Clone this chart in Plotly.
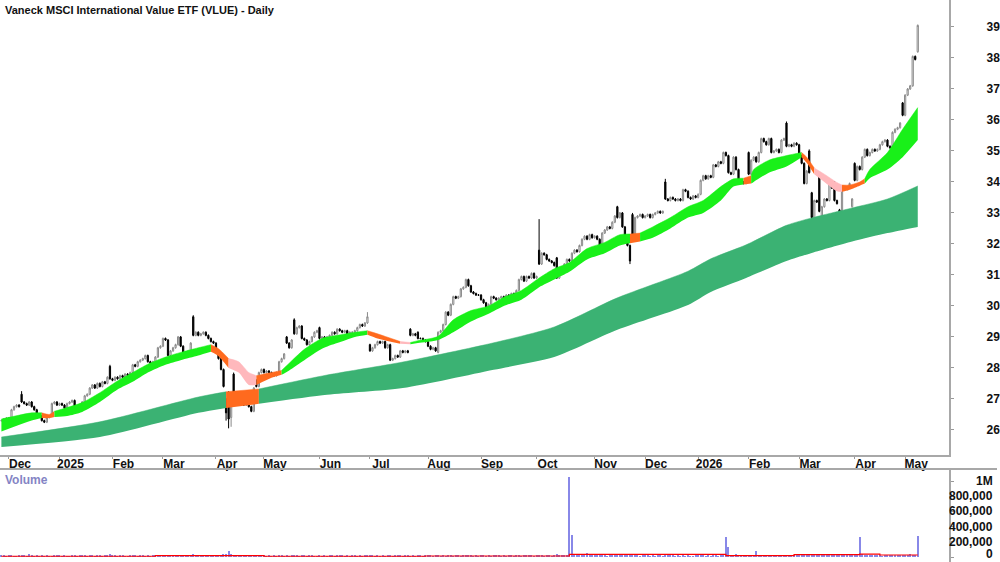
import pandas as pd
import numpy as np
import plotly.graph_objects as go

# ---------------- DATA ----------------
HOLIDAYS = ["2024-12-25", "2024-12-26", "2025-01-01", "2025-01-27", "2025-04-18", "2025-04-21",
            "2025-04-25", "2025-06-09", "2025-12-25", "2025-12-26", "2026-01-01", "2026-01-26",
            "2026-04-03", "2026-04-06"]

close_2024_11 = [26.30, 26.35, 26.38]
close_2024_12 = [26.35, 26.65, 26.75, 26.80, 26.75, 26.90, 26.85, 26.80, 26.90, 26.75, 26.65, 26.50,
                 26.45, 26.30, 26.25, 26.40, 26.45, 26.85, 26.90, 26.80]
close_2025_01 = [26.85, 26.80, 26.70, 26.85, 26.90, 26.95, 26.75, 26.65, 26.75, 26.90, 27.10, 27.15,
                 27.35, 27.45, 27.35, 27.50, 27.40, 27.55, 27.50, 27.70, 27.65]
close_2025_02 = [27.60, 27.70, 27.65, 27.75, 27.70, 27.80, 27.75, 27.85, 28.10, 28.05, 28.20, 28.25,
                 28.30, 28.40, 28.20, 28.15, 28.20, 28.35, 28.65, 28.70]
close_2025_03 = [28.95, 28.90, 28.40, 28.55, 28.65, 28.75, 29.00, 28.70, 28.50, 28.45, 28.55, 28.80,
                 29.05, 29.15, 29.05, 29.10, 29.15, 29.05, 28.95, 28.85, 28.80]
close_2025_04 = [28.55, 28.30, 27.95, 27.40, 26.55, 26.35, 27.00, 27.05, 26.95, 26.85, 27.00, 26.80,
                 26.95, 26.75, 26.60, 27.35, 27.40, 27.85, 27.95]
close_2025_05 = [27.85, 27.90, 27.85, 27.80, 27.75, 27.85, 28.20, 28.30, 28.45, 28.80, 28.65, 28.90,
                 29.10, 29.30, 29.35, 28.95, 28.90, 28.75, 28.85, 29.00, 29.15, 29.20]
close_2025_06 = [28.95, 29.00, 28.95, 29.00, 29.05, 29.15, 29.10, 29.25, 29.20, 29.15, 29.20, 29.10,
                 29.15, 29.15, 29.20, 29.30, 29.40, 29.35, 29.45, 29.65]
close_2025_07 = [28.55, 28.65, 28.75, 28.85, 28.80, 28.85, 28.65, 28.75, 28.25, 28.30, 28.40, 28.35,
                 28.55, 28.50, 28.55, 28.50, 29.05, 29.10, 29.05, 28.95, 28.95, 28.90, 28.85]
close_2025_08 = [28.70, 28.60, 28.65, 28.55, 29.15, 29.20, 29.40, 29.80, 29.70, 30.05, 30.30, 30.25,
                 30.30, 30.55, 30.60, 30.85, 30.65, 30.45, 30.40, 30.35, 30.35]
close_2025_09 = [30.20, 30.10, 29.95, 30.05, 30.30, 30.25, 30.20, 30.25, 30.30, 30.25, 30.35, 30.30,
                 30.40, 30.35, 30.50, 30.85, 30.95, 30.80, 30.95, 30.90, 31.05, 30.90]
close_2025_10 = [30.95, 31.35, 31.70, 31.65, 31.50, 31.45, 31.40, 31.30, 30.90, 31.05, 31.15, 31.35,
                 31.50, 31.45, 31.70, 31.80, 31.75, 31.95, 32.15, 32.25, 32.15, 32.30, 32.20]
close_2025_11 = [32.25, 32.15, 31.85, 32.35, 32.45, 32.55, 32.50, 32.70, 32.90, 32.85, 33.00, 32.55,
                 32.25, 31.95, 31.45, 32.30, 32.85, 32.90, 32.95, 32.85]
close_2025_12 = [32.90, 32.95, 32.85, 32.95, 33.00, 33.05, 33.00, 33.05, 33.45, 33.40, 33.50, 33.45,
                 33.40, 33.45, 33.40, 33.75, 33.70, 33.50, 33.45, 33.55, 33.50]
close_2026_01 = [33.60, 34.05, 34.20, 34.10, 34.20, 34.15, 34.55, 34.50, 34.65, 34.60, 34.95, 34.85,
                 34.30, 34.25, 34.80, 34.40, 34.05, 34.00, 33.95, 34.00]
close_2026_02 = [34.25, 34.70, 34.80, 34.65, 34.95, 35.40, 35.30, 35.20, 35.40, 34.95, 35.00, 35.05,
                 34.95, 35.35, 35.40, 35.15, 35.20, 35.15, 35.25, 35.20]
close_2026_03 = [34.85, 34.60, 33.95, 34.35, 34.30, 32.85, 33.40, 33.35, 33.05, 33.20, 33.45, 33.40,
                 33.95, 33.80, 33.40, 33.30, 32.75, 33.80, 33.75, 33.80, 33.95, 33.45]
close_2026_04 = [34.05, 34.50, 34.40, 34.80, 35.05, 34.85, 34.95, 35.05, 35.00, 35.05, 35.20, 35.30,
                 35.35, 35.15, 35.10, 35.60, 35.70, 35.75, 35.90, 36.15]
close_2026_05 = [36.80, 37.00, 37.10, 38.05, 37.95, 39.05]

# candles whose open is not the previous close, and notable wicks
open_override = {"2024-12-09": 27.15, "2025-01-31": 28.05, "2025-03-19": 29.65, "2025-04-07": 27.00,
                 "2025-04-08": 27.20, "2025-04-09": 26.40, "2025-04-10": 27.80, "2025-04-28": 27.60,
                 "2025-05-14": 29.00, "2025-05-19": 29.55, "2025-06-02": 29.30, "2025-07-01": 28.75,
                 "2025-07-23": 29.25, "2025-07-28": 29.15, "2025-08-07": 28.50, "2025-10-02": 31.80,
                 "2025-10-13": 31.55, "2025-11-14": 33.20, "2025-11-24": 32.95, "2025-12-11": 34.00,
                 "2026-02-02": 34.95, "2026-02-23": 35.90, "2026-03-06": 35.00, "2026-03-09": 33.65,
                 "2026-03-12": 34.25, "2026-03-13": 32.80, "2026-03-20": 34.00, "2026-03-24": 33.10,
                 "2026-03-31": 33.20, "2026-04-01": 34.60, "2026-04-30": 36.55, "2026-05-06": 37.10,
                 "2026-05-08": 38.20}
high_override = {"2024-12-09": 27.25, "2025-01-31": 28.10, "2025-03-19": 29.70, "2025-04-08": 27.25,
                 "2025-04-10": 27.85, "2025-05-19": 29.60, "2025-06-30": 29.80, "2025-10-02": 32.80,
                 "2025-11-24": 33.00, "2025-12-11": 34.10, "2026-02-23": 35.95, "2026-03-06": 35.05}
low_override = {"2025-04-07": 26.30, "2025-04-08": 26.05, "2025-04-09": 26.10, "2025-11-21": 31.35,
                "2026-03-09": 32.55, "2026-03-13": 32.70, "2026-03-24": 32.60}

# volume, thousands of shares
vol_2024_11 = [22, 14, 9]
vol_2024_12 = [18, 30, 12, 9, 26, 15, 21, 11, 34, 17, 8, 24, 13, 28, 12, 19, 7, 5, 15, 20]
vol_2025_01 = [16, 11, 25, 13, 9, 31, 19, 12, 23, 14, 27, 10, 18, 22, 8, 15, 29, 12, 20, 16, 35]
vol_2025_02 = [14, 22, 10, 17, 26, 12, 9, 21, 18, 30, 11, 15, 24, 13, 19, 8, 27, 16, 12, 23]
vol_2025_03 = [20, 13, 28, 11, 17, 24, 9, 15, 22, 30, 12, 18, 33, 14, 10, 21, 16, 25, 11, 19, 14]
vol_2025_04 = [18, 24, 30, 38, 45, 82, 40, 28, 22, 15, 19, 12, 26, 14, 10, 17, 21, 13, 16]
vol_2025_05 = [15, 10, 19, 12, 24, 9, 17, 28, 13, 21, 11, 16, 26, 14, 8, 18, 22, 12, 15, 20, 10, 13]
vol_2025_06 = [17, 12, 23, 9, 15, 20, 11, 27, 14, 18, 10, 22, 13, 16, 25, 12, 19, 9, 14, 30]
vol_2025_07 = [26, 15, 11, 20, 13, 24, 9, 17, 31, 12, 18, 14, 22, 10, 16, 27, 13, 19, 11, 21, 15, 12, 18]
vol_2025_08 = [14, 20, 11, 17, 29, 13, 22, 10, 18, 25, 12, 16, 21, 9, 15, 28, 14, 19, 11, 17, 13]
vol_2025_09 = [16, 22, 12, 19, 10, 25, 14, 18, 9, 21, 13, 17, 24, 11, 15, 30, 12, 20, 14, 18, 26, 13]
vol_2025_10 = [19, 28, 15, 12, 22, 17, 10, 25, 34, 14, 18, 21, 30, 1050, 290, 45, 22, 18, 25, 38, 55, 20, 16]
vol_2025_11 = [18, 24, 30, 15, 21, 12, 27, 19, 33, 25, 17, 22, 28, 14, 38, 26, 15, 20, 11, 18]
vol_2025_12 = [16, 21, 13, 25, 10, 18, 23, 12, 30, 17, 14, 22, 11, 19, 9, 24, 13, 16, 8, 12, 15]
vol_2026_01 = [14, 22, 17, 11, 26, 13, 19, 24, 10, 18, 15, 265, 130, 20, 16, 35, 22, 14, 19, 12]
vol_2026_02 = [21, 15, 28, 80, 13, 19, 24, 11, 17, 22, 14, 30, 18, 12, 25, 16, 20, 13, 19, 23]
vol_2026_03 = [24, 18, 30, 22, 35, 40, 28, 19, 33, 26, 21, 17, 29, 23, 31, 18, 36, 25, 20, 16, 27, 22]
vol_2026_04 = [25, 30, 260, 45, 22, 18, 27, 14, 20, 16, 24, 12, 19, 28, 15, 21, 17, 23, 26, 31]
vol_2026_05 = [28, 22, 35, 30, 26, 270]

# volume average line (stepped), shares
vol_ma_dates = ["2024-11-27", "2025-02-26", "2025-05-01", "2025-07-31", "2025-10-20", "2026-01-19",
                "2026-02-26", "2026-04-07", "2026-04-17", "2026-05-08"]
vol_ma_values = [10000, 18000, 10000, 13000, 35000, 18000, 31000, 39000, 26000, 26000]

# short-term band (upper / lower edge)
short_dates = ["2024-11-27", "2024-12-13", "2024-12-19", "2024-12-24", "2024-12-30", "2025-01-07",
               "2025-01-15", "2025-01-24", "2025-02-05", "2025-02-13", "2025-02-21", "2025-03-04",
               "2025-03-12", "2025-03-21", "2025-03-28", "2025-04-02", "2025-04-08", "2025-04-14",
               "2025-04-22", "2025-04-28", "2025-05-06", "2025-05-12", "2025-05-15", "2025-05-23",
               "2025-06-03", "2025-06-12", "2025-06-23", "2025-06-30", "2025-07-04", "2025-07-17",
               "2025-07-23", "2025-07-28", "2025-08-07", "2025-08-15", "2025-08-26", "2025-09-04",
               "2025-09-12", "2025-09-23", "2025-10-02", "2025-10-10", "2025-10-20", "2025-10-29",
               "2025-11-07", "2025-11-17", "2025-11-21", "2025-11-27", "2025-12-04", "2025-12-15",
               "2025-12-24", "2026-01-06", "2026-01-15", "2026-01-22", "2026-01-29", "2026-02-03",
               "2026-02-04", "2026-02-12", "2026-02-23", "2026-03-03", "2026-03-05", "2026-03-10",
               "2026-03-16", "2026-03-23", "2026-03-25", "2026-03-30", "2026-04-07", "2026-04-09",
               "2026-04-13", "2026-04-22", "2026-04-30", "2026-05-08"]
short_upper = [26.35, 26.55, 26.55, 26.50, 26.60, 26.72, 26.88, 27.20, 27.58, 27.85, 28.12, 28.35,
               28.50, 28.65, 28.75, 28.62, 28.30, 28.20, 27.85, 27.75, 27.85, 27.92, 28.15, 28.60,
               28.95, 29.05, 29.15, 29.20, 29.10, 28.85, 28.82, 28.88, 29.02, 29.55, 29.85, 30.00,
               30.28, 30.50, 30.90, 31.20, 31.40, 31.85, 32.05, 32.30, 32.32, 32.35, 32.55, 32.85,
               33.20, 33.40, 33.85, 34.10, 34.12, 34.20, 34.40, 34.70, 34.85, 34.95, 34.80, 34.45,
               34.25, 33.98, 33.90, 33.90, 34.00, 34.10, 34.40, 34.95, 35.70, 36.40]
short_lower = [25.95, 26.30, 26.38, 26.38, 26.42, 26.45, 26.58, 26.90, 27.30, 27.55, 27.85, 28.10,
               28.25, 28.40, 28.52, 28.38, 28.00, 27.85, 27.45, 27.45, 27.68, 27.78, 27.92, 28.25,
               28.62, 28.80, 29.00, 29.07, 28.95, 28.78, 28.76, 28.80, 28.90, 29.15, 29.50, 29.75,
               30.00, 30.20, 30.60, 30.85, 31.10, 31.50, 31.70, 31.95, 32.02, 32.08, 32.20, 32.50,
               32.85, 33.00, 33.40, 33.85, 33.92, 33.95, 34.00, 34.30, 34.50, 34.80, 34.62, 34.25,
               34.00, 33.70, 33.68, 33.75, 33.88, 33.95, 34.12, 34.40, 34.80, 35.35]
short_states = [("2024-11-27", "2024-12-19", "up"), ("2024-12-19", "2024-12-30", "weak"),
                ("2024-12-30", "2025-03-28", "up"), ("2025-03-28", "2025-04-08", "weak"),
                ("2025-04-08", "2025-04-28", "down"), ("2025-04-28", "2025-05-12", "weak"),
                ("2025-05-12", "2025-06-30", "up"), ("2025-06-30", "2025-07-17", "weak"),
                ("2025-07-17", "2025-07-23", "down"), ("2025-07-23", "2025-11-21", "up"),
                ("2025-11-21", "2025-11-27", "weak"), ("2025-11-27", "2026-01-29", "up"),
                ("2026-01-29", "2026-02-03", "weak"), ("2026-02-03", "2026-03-03", "up"),
                ("2026-03-03", "2026-03-10", "weak"), ("2026-03-10", "2026-03-25", "down"),
                ("2026-03-25", "2026-04-09", "weak"), ("2026-04-09", "2026-05-08", "up")]

# long-term band
long_dates = ["2024-11-27", "2025-01-24", "2025-03-21", "2025-04-07", "2025-04-29", "2025-06-05",
              "2025-07-18", "2025-09-08", "2025-10-10", "2025-11-14", "2025-12-24", "2026-01-09",
              "2026-01-30", "2026-02-23", "2026-03-09", "2026-03-31", "2026-04-22", "2026-05-08"]
long_upper = [25.77, 26.26, 27.06, 27.23, 27.32, 27.77, 28.19, 28.81, 29.32, 30.26, 31.12, 31.52,
              31.97, 32.60, 32.84, 33.16, 33.45, 33.87]
long_lower = [25.45, 25.77, 26.55, 26.71, 26.84, 27.13, 27.35, 27.94, 28.35, 29.23, 30.03, 30.45,
              30.90, 31.45, 31.71, 32.08, 32.35, 32.55]
long_states = [("2024-11-27", "2025-04-07", "up"), ("2025-04-07", "2025-04-29", "weak"),
               ("2025-04-29", "2026-05-08", "up")]

month_labels = ["Dec", "2025", "Feb", "Mar", "Apr", "May", "Jun", "Jul", "Aug", "Sep", "Oct", "Nov",
                "Dec", "2026", "Feb", "Mar", "Apr", "May"]
price_ticks = list(range(26, 40))
volume_ticks = [0, 200000, 400000, 600000, 800000, 1000000]
volume_tick_text = ["0", "200,000", "400,000", "600,000", "800,000", "1M"]

# ---------------- BUILD ----------------
days = pd.bdate_range("2024-11-27", "2026-05-08")
days = days[~days.isin(pd.to_datetime(HOLIDAYS))]
closes = (close_2024_11 + close_2024_12 + close_2025_01 + close_2025_02 + close_2025_03 + close_2025_04 +
          close_2025_05 + close_2025_06 + close_2025_07 + close_2025_08 + close_2025_09 + close_2025_10 +
          close_2025_11 + close_2025_12 + close_2026_01 + close_2026_02 + close_2026_03 + close_2026_04 +
          close_2026_05)
vols = (vol_2024_11 + vol_2024_12 + vol_2025_01 + vol_2025_02 + vol_2025_03 + vol_2025_04 + vol_2025_05 +
        vol_2025_06 + vol_2025_07 + vol_2025_08 + vol_2025_09 + vol_2025_10 + vol_2025_11 + vol_2025_12 +
        vol_2026_01 + vol_2026_02 + vol_2026_03 + vol_2026_04 + vol_2026_05)
n = len(days)
assert len(closes) == n, (len(closes), n)
assert len(vols) == n, (len(vols), n)

def pos(d):
    return int(days.searchsorted(pd.Timestamp(d)))

xi = np.arange(n)
dstr = [d.strftime("%Y-%m-%d") for d in days]
opens, highs, lows = [], [], []
for i, c in enumerate(closes):
    o = open_override.get(dstr[i], closes[i - 1] if i > 0 else c)
    h = high_override.get(dstr[i], max(o, c) + 0.03)
    l = low_override.get(dstr[i], min(o, c) - 0.03)
    opens.append(o); highs.append(h); lows.append(l)

month_pos = [pos(p) for p in pd.date_range("2024-12-01", "2026-05-01", freq="MS")]

PX = 2.532
x_left = pos("2024-12-02") - 9 / PX
x_right = x_left + 952 / PX

COL = {"up": "#19F019", "weak": "#FF6A1E", "down": "#FFB8BC"}
LONG_COL = {"up": "#3BB273", "weak": "#FF6A1E"}

fig = go.Figure()

def add_band(dates, upper, lower, states, colors):
    xs_all = [pos(d) for d in dates]
    for s, e, st in states:
        a, b = pos(s), pos(e)
        sel = [k for k, xv in enumerate(xs_all) if a <= xv <= b]
        xs = [xs_all[k] for k in sel]
        fig.add_trace(go.Scatter(x=xs, y=[lower[k] for k in sel], mode="lines",
                                 line=dict(width=0, shape="spline", smoothing=0.7, color=colors[st]),
                                 hoverinfo="skip", xaxis="x", yaxis="y"))
        fig.add_trace(go.Scatter(x=xs, y=[upper[k] for k in sel], mode="lines", fill="tonexty",
                                 fillcolor=colors[st],
                                 line=dict(width=0.5, shape="spline", smoothing=0.7, color=colors[st]),
                                 hoverinfo="skip", xaxis="x", yaxis="y"))

add_band(long_dates, long_upper, long_lower, long_states, LONG_COL)
add_band(short_dates, short_upper, short_lower, short_states, COL)

fig.add_trace(go.Candlestick(
    x=xi, open=opens, high=highs, low=lows, close=closes,
    increasing=dict(line=dict(color="#8A8A8A", width=1), fillcolor="#FFFFFF"),
    decreasing=dict(line=dict(color="#000000", width=1), fillcolor="#000000"),
    whiskerwidth=0, xaxis="x", yaxis="y", hoverinfo="skip"))

fig.add_trace(go.Bar(x=xi, y=[v * 1000 for v in vols], marker=dict(color="#8888E8", line=dict(width=0)),
                     width=0.45, xaxis="x2", yaxis="y2", hoverinfo="skip"))
fig.add_trace(go.Scatter(x=[pos(d) for d in vol_ma_dates], y=vol_ma_values, mode="lines",
                         line=dict(color="#FF0000", width=1.2, shape="hv"), xaxis="x2", yaxis="y2",
                         hoverinfo="skip"))

FONT = "Liberation Sans Narrow, Arial Narrow, Liberation Sans, Arial"
top_main = 1 - 455 / 562
top_vol = 1 - 469 / 562

fig.update_layout(
    width=1000, height=562, margin=dict(l=0, r=0, t=0, b=0),
    paper_bgcolor="white", plot_bgcolor="white", showlegend=False,
    font=dict(family=FONT, size=12, color="#111111"),
    xaxis=dict(domain=[0, 0.952], range=[x_left, x_right], anchor="y",
               tickvals=month_pos, ticktext=month_labels, ticks="outside", ticklen=2,
               tickcolor="#999999", showgrid=False, zeroline=False,
               showline=True, linecolor="#A8A8A8", linewidth=2,
               tickfont=dict(family=FONT, size=12, color="#111111", weight="bold"),
               ticklabelshift=11, ticklabelstandoff=-5,
               rangeslider=dict(visible=False), fixedrange=True),
    yaxis=dict(domain=[top_main, 1], range=[25.19, 39.87], side="right", anchor="x",
               tickvals=price_ticks, ticks="outside", ticklen=3, tickcolor="#999999",
               showgrid=False, zeroline=False, showline=True, linecolor="#A8A8A8", linewidth=2,
               tickfont=dict(family=FONT, size=12, color="#111111", weight="bold"),
               ticklabelstandoff=30),
    xaxis2=dict(domain=[0, 0.952], range=[x_left, x_right], anchor="y2", matches="x",
                showticklabels=False, ticks="", showgrid=False, zeroline=False, showline=False),
    yaxis2=dict(domain=[0, top_vol], range=[-65800, 1158000], side="right", anchor="x2",
                tickvals=volume_ticks, ticks="outside", ticklen=3, tickcolor="#999999",
                showticklabels=False, showgrid=False, zeroline=False,
                showline=True, linecolor="#A8A8A8", linewidth=2),
    bargap=0,
)

fig.add_shape(type="line", xref="paper", yref="paper", x0=0, x1=1, y0=top_vol, y1=top_vol,
              line=dict(color="#A8A8A8", width=2))

for v, t in zip(volume_ticks, volume_tick_text):
    fig.add_annotation(x=0.998, xref="paper", y=v, yref="y2", text=t, showarrow=False,
                       xanchor="right", yanchor="middle", yshift=3 if v == 0 else 0,
                       font=dict(family=FONT, size=12, color="#111111", weight="bold"))

fig.add_annotation(x=0.003, xref="paper", y=1 - 2 / 562, yref="paper",
                   text="Vaneck MSCI International Value ETF (VLUE) - Daily", showarrow=False,
                   xanchor="left", yanchor="top",
                   font=dict(family=FONT, size=11, color="#111111", weight="bold"))
fig.add_annotation(x=0.003, xref="paper", y=1 - 471 / 562, yref="paper", text="Volume",
                   showarrow=False, xanchor="left", yanchor="top",
                   font=dict(family=FONT, size=12, color="#8484C4", weight="bold"))

fig.write_html("out.html")
